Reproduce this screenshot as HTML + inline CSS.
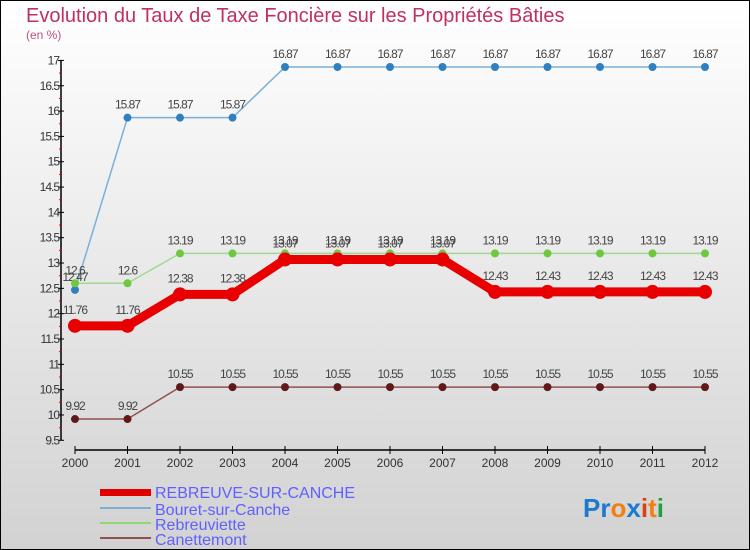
<!DOCTYPE html>
<html><head><meta charset="utf-8"><style>
body{margin:0;width:750px;height:550px;overflow:hidden;font-family:"Liberation Sans",sans-serif}
svg{display:block}
</style></head><body>
<svg id="c" width="750" height="550" xmlns="http://www.w3.org/2000/svg">
<defs><linearGradient id="bg" x1="0" y1="0" x2="0" y2="1"><stop offset="0" stop-color="#ffffff"/><stop offset="1" stop-color="#d2d2d2"/></linearGradient></defs>
<rect x="0.5" y="0.5" width="749" height="549" fill="url(#bg)" stroke="#000"/>
<text x="26" y="22" font-size="20" fill="#c03060">Evolution du Taux de Taxe Foncière sur les Propriétés Bâties</text>
<text x="26" y="39" font-size="12" fill="#c05080">(en %)</text>
<g id="axes"></g><g id="series"></g>
<g>
<rect x="100" y="489" width="51" height="7" fill="#e00000"/>
<text x="155" y="498" font-size="16" fill="#6060ff">REBREUVE-SUR-CANCHE</text>
<rect x="100" y="507" width="51" height="2" fill="#7ab0d8"/>
<text x="155" y="515" font-size="16" fill="#6060ff">Bouret-sur-Canche</text>
<rect x="100" y="522" width="51" height="2" fill="#90d870"/>
<text x="155" y="530" font-size="16" fill="#6060ff">Rebreuviette</text>
<rect x="100" y="537" width="51" height="2" fill="#905050"/>
<text x="155" y="545" font-size="16" fill="#6060ff">Canettemont</text>
</g>
<text x="583" y="517" font-size="26" font-weight="bold"><tspan fill="#1a7ad0">Pr</tspan><tspan fill="#f08010">o</tspan><tspan fill="#1a7ad0">x</tspan><tspan fill="#e04010">i</tspan><tspan fill="#f08010">t</tspan><tspan fill="#20a040">i</tspan></text>
</svg>
<script>
const years=[2000,2001,2002,2003,2004,2005,2006,2007,2008,2009,2010,2011,2012];
const rebreuve=[11.76,11.76,12.38,12.38,13.07,13.07,13.07,13.07,12.43,12.43,12.43,12.43,12.43];
const bouret=[12.47,15.87,15.87,15.87,16.87,16.87,16.87,16.87,16.87,16.87,16.87,16.87,16.87];
const rebreuviette=[12.6,12.6,13.19,13.19,13.19,13.19,13.19,13.19,13.19,13.19,13.19,13.19,13.19];
const canettemont=[9.92,9.92,10.55,10.55,10.55,10.55,10.55,10.55,10.55,10.55,10.55,10.55,10.55];
const yTicks=[9.5,10,10.5,11,11.5,12,12.5,13,13.5,14,14.5,15,15.5,16,16.5,17];
const NS="http://www.w3.org/2000/svg";
const xs=i=>75+i*52.5;
const ys=v=>440.3-(v-9.5)*50.65;
function mk(t,a,p){const e=document.createElementNS(NS,t);for(const k in a)e.setAttribute(k,a[k]);p.appendChild(e);return e;}
const ax=document.getElementById('axes');
let e=mk('line',{x1:61,y1:ys(17),x2:61,y2:ys(9.5),stroke:'#000','stroke-width':1.5},ax);


yTicks.forEach(v=>{
 const y=ys(v);
 let t=mk('line',{x1:58,y1:y,x2:64,y2:y,stroke:'#000'},ax);
 
 
 if(v<17){let m=mk('line',{x1:59,y1:ys(v+0.25),x2:62,y2:ys(v+0.25),stroke:'#e00000'},ax);
 
 }
 let l=mk('text',{x:59,y:y+4,'font-size':12,fill:'#333','text-anchor':'end','letter-spacing':'-1'},ax);
 l.textContent=String(v);
 
 
});
e=mk('line',{x1:75,y1:450,x2:705,y2:450,stroke:'#000','stroke-width':1.5},ax);


years.forEach((yr,i)=>{
 let t=mk('line',{x1:xs(i),y1:446,x2:xs(i),y2:454,stroke:'#000'},ax);
 
 
 let l=mk('text',{x:xs(i),y:467,'font-size':12,fill:'#333','text-anchor':'middle'},ax);
 l.textContent=String(yr);
 
 
});
const sg=document.getElementById('series');
function series(name,vals,color,w,r,dot,dy){
 const g=mk('g',{},sg);
 
 
 let p=mk('polyline',{points:vals.map((v,i)=>xs(i)+','+ys(v)).join(' '),fill:'none',stroke:color,'stroke-width':w,'stroke-linejoin':'round'},g);
 
 
 vals.forEach((v,i)=>{
  let c=mk('circle',{cx:xs(i),cy:ys(v),r:r,fill:dot},g);
  
  
  let t=mk('text',{x:xs(i),y:ys(v)+dy,'font-size':12,fill:'#444','text-anchor':'middle','letter-spacing':'-1'},g);
  t.textContent=String(v);
  
  
 });
}
series('bouret',bouret,'#7ab0d8',1.5,4,'#3080c0',-9);
series('rebreuviette',rebreuviette,'#a0d890',1.5,4,'#70c840',-9);
series('canettemont',canettemont,'#905050',1.5,4,'#601818',-9);
series('rebreuve',rebreuve,'#e80000',9,7,'#e80000',-12);
</script>
</body></html>
